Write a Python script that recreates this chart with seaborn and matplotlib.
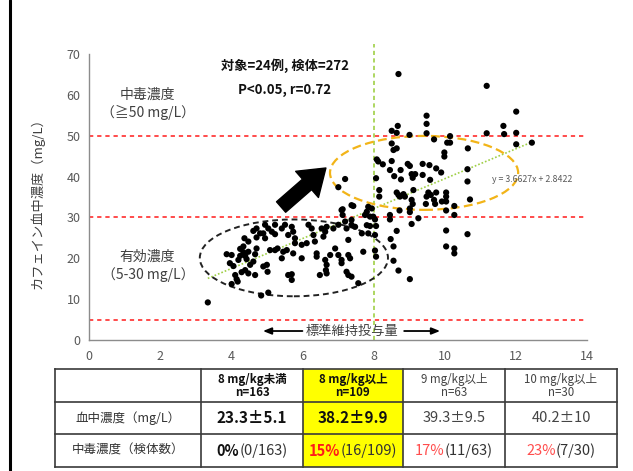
import matplotlib
matplotlib.use("Agg")
import matplotlib.pyplot as plt
import seaborn as sns
import pandas as pd
from matplotlib.patches import Ellipse, Rectangle
from matplotlib.lines import Line2D
from matplotlib.offsetbox import TextArea, HPacker, AnnotationBbox

sns.set_style("white")
plt.rcParams['font.family'] = ['Noto Sans CJK JP', 'DejaVu Sans']

# ---- data: caffeine dose (mg/kg) vs blood concentration (mg/L) ----
dose = [
    3.34, 4.84, 5.04, 4.01, 4.15, 3.87, 4.01, 3.96, 4.06, 4.20, 4.25, 4.25, 4.34, 4.34, 4.39,
    4.43, 4.48, 4.37, 4.48, 4.53, 4.39, 4.48, 4.29, 4.62, 4.67, 4.71, 4.62, 4.71, 4.81, 4.71,
    4.90, 4.95, 4.95, 5.04, 5.14, 5.23, 5.23, 4.90, 5.00, 5.02, 4.67, 5.09, 5.23, 5.42, 5.30,
    5.46, 5.56, 5.42, 5.51, 5.60, 5.74, 5.70, 5.79, 5.79, 5.74, 5.70, 5.60, 5.70, 5.98, 5.98,
    6.12, 6.17, 6.26, 6.31, 6.35, 6.40, 6.40, 6.49, 6.54, 6.64, 6.59, 6.68, 6.64, 6.68, 6.66,
    6.68, 6.78, 6.87, 6.92, 7.01, 7.01, 7.10, 7.10, 7.24, 7.29, 7.29, 7.24, 7.29, 7.38, 7.34,
    7.38, 7.48, 7.20, 7.38, 7.57, 7.10, 7.38, 4.18, 4.11, 7.20, 7.01, 7.43, 7.13, 7.13,
    8.70, 11.18, 12.01, 9.49, 9.49, 8.68, 8.51, 8.65, 9.01, 9.49, 9.70, 10.15, 11.18, 11.65, 11.67,
    12.01, 12.01, 12.45, 8.51, 10.07, 10.15, 8.56, 8.65, 9.99, 9.99, 10.65, 8.09, 8.13, 8.26, 8.51,
    8.46, 8.76, 8.96, 9.02, 9.38, 9.57, 9.76, 9.90, 10.64, 8.58, 8.77, 9.07, 9.17, 9.10, 9.38,
    9.59, 8.07, 10.64, 8.16, 8.16, 8.65, 8.70, 8.84, 8.74, 8.88, 9.12, 9.54, 9.61, 9.49, 9.76,
    10.04, 10.04, 10.71, 9.07, 9.10, 9.47, 9.70, 9.73, 9.92, 10.04, 10.27, 8.73, 9.02, 9.02, 10.04,
    8.46, 10.27, 9.26, 8.46, 9.07, 8.65, 10.04, 10.64, 8.48, 8.56, 10.04, 10.27, 10.27, 8.56, 8.70,
    9.02, 7.85, 7.95, 7.81, 7.76, 7.90, 7.99, 8.04, 7.81, 7.90, 8.07, 7.67, 7.85, 8.04, 7.71,
    8.04, 8.07,
]
conc = [
    9.2, 10.9, 11.6, 13.7, 14.9, 21.0, 20.8, 18.8, 18.1, 19.6, 20.6, 22.3, 22.9, 21.5, 20.6,
    19.8, 21.6, 24.9, 24.1, 18.4, 17.1, 16.3, 16.6, 19.2, 21.0, 22.4, 26.7, 27.3, 26.1, 25.1,
    26.1, 24.9, 28.2, 27.3, 26.5, 25.9, 28.2, 18.0, 18.4, 16.7, 15.9, 22.0, 22.0, 20.0, 22.4,
    21.6, 22.0, 27.3, 28.2, 25.7, 26.5, 27.7, 24.9, 23.7, 21.2, 16.1, 15.9, 14.7, 20.0, 23.3,
    23.7, 28.2, 27.3, 25.7, 24.1, 21.2, 20.4, 15.9, 27.3, 26.5, 25.3, 27.7, 19.6, 18.4, 17.1,
    16.3, 20.8, 27.3, 22.4, 28.2, 20.8, 19.6, 18.8, 27.3, 24.5, 20.8, 16.7, 15.9, 15.5, 20.0,
    28.2, 27.7, 29.0, 29.4, 13.9, 31.8, 33.0, 14.3, 15.9, 39.4, 37.4, 32.8, 32.0, 30.6,
    65.1, 62.2, 55.9, 54.9, 52.9, 52.4, 51.2, 50.7, 50.2, 50.6, 49.1, 49.9, 50.6, 52.4, 50.4,
    50.7, 47.9, 48.3, 48.1, 48.3, 48.3, 46.5, 46.9, 45.9, 44.9, 46.9, 44.2, 43.7, 43.0, 43.8,
    41.6, 41.6, 43.1, 42.6, 43.1, 42.8, 42.0, 41.0, 41.8, 40.1, 39.3, 40.6, 40.6, 39.7, 40.4,
    39.2, 39.6, 38.8, 36.7, 35.1, 36.1, 35.5, 35.7, 35.1, 35.1, 36.7, 36.1, 35.5, 35.1, 36.1,
    36.1, 35.1, 34.4, 34.3, 33.3, 33.3, 34.3, 33.3, 33.9, 33.9, 32.8, 31.7, 32.2, 31.3, 31.7,
    30.6, 30.6, 29.8, 29.5, 28.4, 26.7, 26.8, 25.9, 24.7, 22.9, 22.9, 22.4, 21.2, 19.4, 17.0,
    14.9, 32.6, 32.2, 31.4, 30.6, 30.2, 30.2, 29.5, 28.1, 27.9, 27.9, 26.1, 26.1, 25.7, 21.6,
    21.9, 20.4,
]

slope, intercept = 3.6627, 2.8422
n_patients, n_samples = 24, 272
p_text, r_value = "P<0.05", 0.72
x_ticks = list(range(0, 15, 2))
y_ticks = list(range(0, 71, 10))
ref_levels = [50, 30, 5]
dose_cut = 8

# summary table by dose group
groups = ["8 mg/kg未満", "8 mg/kg以上", "9 mg/kg以上", "10 mg/kg以上"]
group_n = [163, 109, 63, 30]
mean_conc = [23.3, 38.2, 39.3, 40.2]
sd_conc = [5.1, 9.9, 9.5, 10]
toxic_n = [0, 16, 11, 7]
row_labels = ["血中濃度（mg/L）", "中毒濃度（検体数）"]

df = pd.DataFrame({"dose": dose, "conc": conc})

# ---- figure ----
W, H = 633, 471
fig = plt.figure(figsize=(W / 100, H / 100), dpi=100)
ax = fig.add_axes([89 / W, 1 - 340 / H, (587 - 89) / W, (340 - 54) / H])

GRAY = "#595959"
TXT = "#404040"
RED_LINE = "#ff4b4b"
GREEN = "#9fcf45"
ORANGE = "#f2b418"

for lvl in ref_levels:
    ax.axhline(lvl, color=RED_LINE, lw=1.4, ls=(0, (2.2, 2.0)), zorder=1)

ax.plot([dose_cut, dose_cut], [0, 72.5], color=GREEN, lw=1.2,
        ls=(0, (2.5, 2.0)), clip_on=False, zorder=1)

sns.scatterplot(data=df, x="dose", y="conc", ax=ax, color="black", s=20,
                edgecolor="none", zorder=3, legend=False)

x_fit = [min(dose), max(dose)]
y_fit = [slope * v + intercept for v in x_fit]
ax.plot(x_fit, y_fit, color=GREEN, lw=1.2, ls=(0, (1.0, 1.2)), zorder=2)
ax.text(11.33, 39.4, f"y = {slope}x + {intercept}", fontsize=6.3, color=GRAY,
        ha="left", va="center", zorder=4)

ax.add_patch(Ellipse((5.76, 20.1), 5.29, 18.8, fill=False, ec="#222222",
                     lw=1.4, ls=(0, (3, 2)), zorder=2))
ax.add_patch(Ellipse((9.42, 40.9), 5.29, 18.1, fill=False, ec=ORANGE,
                     lw=1.6, ls=(0, (4, 2)), zorder=2))

ax.annotate("", xy=(6.66, 42.1), xytext=(5.40, 32.55),
            arrowprops=dict(arrowstyle="simple,head_length=1.8,head_width=2.5,tail_width=1.0",
                            mutation_scale=10, color="black", shrinkA=0, shrinkB=0),
            zorder=4)

ax.text(5.51, 67.1, f"対象={n_patients}例, 検体={n_samples}", fontsize=9.5,
        fontweight="bold", color="#111111", ha="center", va="center")
ax.text(5.51, 61.2, f"{p_text}, r={r_value}", fontsize=9.5,
        fontweight="bold", color="#111111", ha="center", va="center")

ax.text(1.63, 60.0, "中毒濃度", fontsize=10, color=TXT, ha="center", va="center")
ax.text(1.66, 55.6, "（≧50 mg/L）", fontsize=10, color=TXT, ha="center", va="center")
ax.text(1.63, 20.3, "有効濃度", fontsize=10, color=TXT, ha="center", va="center")
ax.text(1.66, 15.9, "（5-30 mg/L）", fontsize=10, color=TXT, ha="center", va="center")

ax.text(7.39, 2.2, "標準維持投与量", fontsize=9.5, color=TXT, ha="center", va="center")
ax.annotate("", xy=(4.89, 2.2), xytext=(6.0, 2.2),
            arrowprops=dict(arrowstyle="-|>,head_length=0.5,head_width=0.2",
                            color="black", lw=1.3, shrinkA=0, shrinkB=0))
ax.annotate("", xy=(9.87, 2.2), xytext=(8.86, 2.2),
            arrowprops=dict(arrowstyle="-|>,head_length=0.5,head_width=0.2",
                            color="black", lw=1.3, shrinkA=0, shrinkB=0))

ax.set_xlim(0, 14)
ax.set_ylim(0, 70)
ax.set_xticks(x_ticks)
ax.set_yticks(y_ticks)
ax.set_xlabel("")
ax.set_ylabel("カフェイン血中濃度（mg/L）", fontsize=9.5, color=TXT)
ax.yaxis.set_label_coords(-(89 - 45) / 498, 0.49)
for side in ["top", "right"]:
    ax.spines[side].set_visible(False)
for side in ["left", "bottom"]:
    ax.spines[side].set_color("#8c8c8c")
    ax.spines[side].set_linewidth(1.0)
ax.tick_params(axis="both", direction="in", length=3, width=0.8, color="#8c8c8c",
               labelsize=9, labelcolor=GRAY)
ax.tick_params(axis="x", pad=7)
ax.tick_params(axis="y", pad=6)

# ---- summary table ----
tax = fig.add_axes([55 / W, 1 - 467 / H, 562 / W, 98 / H])
col_edges = [0, 146, 248, 348, 450, 562]
row_edges = [0, 33, 65, 98]
tax.set_xlim(0, 562)
tax.set_ylim(98, 0)
tax.axis("off")

tax.add_patch(Rectangle((col_edges[2], 0), col_edges[3] - col_edges[2], 98,
                        fc="#ffff00", ec="none", zorder=0))
LC = "#3a3a3a"
for yb in row_edges:
    tax.plot([0, 562], [yb, yb], color=LC, lw=1.2, clip_on=False, solid_capstyle="projecting")
for xb in col_edges:
    tax.plot([xb, xb], [0, 98], color=LC, lw=1.2, clip_on=False, solid_capstyle="projecting")

centers = [(col_edges[i] + col_edges[i + 1]) / 2 for i in range(5)]
row_mid = [(row_edges[i] + row_edges[i + 1]) / 2 for i in range(3)]

for j, lab in enumerate(row_labels):
    tax.text(centers[0], row_mid[j + 1], lab, fontsize=9, color="#333333",
             ha="center", va="center")

for i, g in enumerate(groups):
    cx = centers[i + 1]
    emph = i < 2
    fw = "bold" if emph else "normal"
    col = "#111111" if emph else "#444444"
    tax.text(cx, 10, g, fontsize=8.3, fontweight=fw, color=col, ha="center", va="center")
    tax.text(cx, 24, f"n={group_n[i]}", fontsize=8.3, fontweight=fw, color=col,
             ha="center", va="center")
    tax.text(cx, row_mid[1], f"{mean_conc[i]:g}±{sd_conc[i]:g}", fontsize=11 if emph else 10.5,
             fontweight=fw, color=col, ha="center", va="center")

    pct = round(100 * toxic_n[i] / group_n[i])
    if pct == 0:
        pct_color, pct_w = "#111111", "bold"
    elif emph:
        pct_color, pct_w = "#ff1a1a", "bold"
    else:
        pct_color, pct_w = "#ff4d4d", "normal"
    fs = 10.5
    box = HPacker(children=[
        TextArea(f"{pct}%", textprops=dict(fontsize=fs, color=pct_color, fontweight=pct_w)),
        TextArea(f"({toxic_n[i]}/{group_n[i]})", textprops=dict(fontsize=fs, color="#333333")),
    ], pad=0, sep=0, align="baseline")
    tax.add_artist(AnnotationBbox(box, (cx, row_mid[2]), xycoords="data",
                                  frameon=False, box_alignment=(0.5, 0.5), pad=0))

# left page border
fig.add_artist(Line2D([10 / W, 10 / W], [0, 1], color="black", lw=2.2,
                      transform=fig.transFigure))

fig.savefig("out.png", dpi=100)
